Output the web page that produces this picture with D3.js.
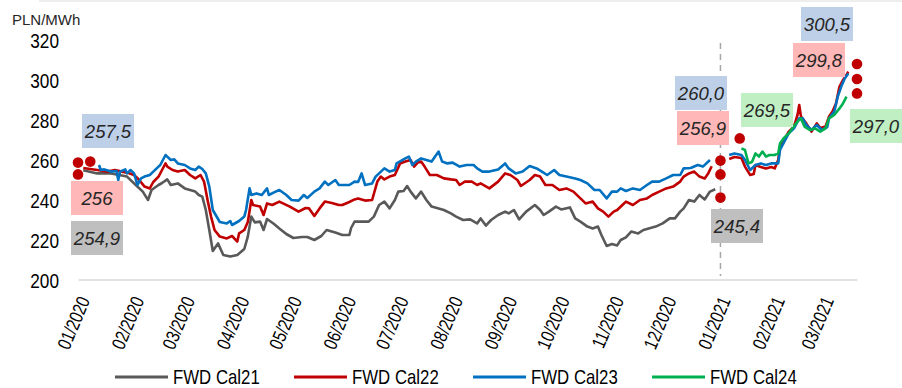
<!DOCTYPE html>
<html>
<head>
<meta charset="utf-8">
<script src="https://cdn.jsdelivr.net/npm/d3@7"></script>
<style>
  html, body { margin: 0; padding: 0; background: #fff; }
  svg { display: block; font-family: "Liberation Sans", Arial, sans-serif; }
</style>
</head>
<body>
<svg id="chart" width="902" height="388"></svg>
<script>
// Forward base-load prices, PLN/MWh (date, value); null marks the year-end gap
const cal21 = [
  ["2020-01-03",254.9],["2020-01-11",253.3],["2020-01-19",253.3],["2020-01-28",251.7],["2020-02-02",247.5],
  ["2020-02-06",244.2],["2020-02-09",240],["2020-02-11",245],["2020-02-15",247.5],["2020-02-17",248.5],
  ["2020-02-20",250.3],["2020-02-22",247.5],["2020-02-26",248.3],["2020-03-01",245.8],["2020-03-04",245],
  ["2020-03-07",244.2],["2020-03-09",242.5],["2020-03-11",241.7],["2020-03-13",235],["2020-03-15",225],
  ["2020-03-17",214.5],["2020-03-20",218.3],["2020-03-23",212.5],["2020-03-27",211.7],["2020-03-31",212.5],
  ["2020-04-04",215.5],["2020-04-06",221.7],["2020-04-08",231.7],["2020-04-10",228.8],["2020-04-13",229.2],
  ["2020-04-15",225],["2020-04-17",230.5],["2020-04-21",228],["2020-04-24",225.8],["2020-04-28",223],
  ["2020-05-02",221],["2020-05-07",221.5],["2020-05-10",221.5],["2020-05-14",220],["2020-05-18",222],
  ["2020-05-21",225],["2020-05-26",223.7],["2020-05-30",222.5],["2020-06-03",222.5],["2020-06-04",226],
  ["2020-06-06",229.2],["2020-06-10",229.2],["2020-06-14",229.2],["2020-06-17",231.7],["2020-06-20",237.5],
  ["2020-06-23",239.2],["2020-06-26",235.8],["2020-06-29",240],["2020-07-01",244.2],["2020-07-04",244.5],
  ["2020-07-06",247],["2020-07-08",244.2],["2020-07-11",240.8],["2020-07-14",244.2],["2020-07-17",240],
  ["2020-07-20",236.7],["2020-07-23",236],["2020-07-27",235],["2020-07-31",233.3],["2020-08-03",231.7],
  ["2020-08-07",230],["2020-08-11",230.3],["2020-08-15",228.3],["2020-08-17",230.8],["2020-08-20",227.2],
  ["2020-08-23",230],["2020-08-27",232.5],["2020-08-31",234.2],["2020-09-02",233.3],["2020-09-05",235],
  ["2020-09-08",230.3],["2020-09-12",234.2],["2020-09-17",237.5],["2020-09-20",235],["2020-09-22",232.5],
  ["2020-09-25",234.2],["2020-09-29",236.7],["2020-10-02",235.3],["2020-10-07",236.3],["2020-10-10",230.8],
  ["2020-10-13",229.2],["2020-10-17",226.7],["2020-10-20",225.8],["2020-10-23",226.7],["2020-10-25",222.5],
  ["2020-10-28",217],["2020-10-31",218],["2020-11-03",217.3],["2020-11-05",220],["2020-11-08",221.3],
  ["2020-11-11",224.2],["2020-11-15",223.3],["2020-11-18",225],["2020-11-21",225.8],["2020-11-25",226.7],
  ["2020-11-29",228.3],["2020-12-03",230.8],["2020-12-06",230.8],["2020-12-09",234.2],["2020-12-11",235.8],
  ["2020-12-14",240],["2020-12-17",239.2],["2020-12-20",242.5],["2020-12-23",240.3],["2020-12-26",244.2],
  ["2020-12-29",245.4]
];

const cal22 = [
  ["2020-01-03",256],["2020-01-11",255],["2020-01-17",254.2],["2020-01-21",255],["2020-01-25",254.2],
  ["2020-01-28",253.7],["2020-02-01",252.5],["2020-02-04",250],["2020-02-07",246.7],["2020-02-10",245.8],
  ["2020-02-12",249],["2020-02-15",251.7],["2020-02-17",255],["2020-02-19",258.3],["2020-02-20",256.7],
  ["2020-02-23",255],["2020-02-26",254.2],["2020-03-01",255],["2020-03-04",252.5],["2020-03-07",250.8],
  ["2020-03-10",252.5],["2020-03-12",249.2],["2020-03-14",240],["2020-03-16",231.7],["2020-03-18",225],
  ["2020-03-21",221.7],["2020-03-25",220.8],["2020-03-28",222],["2020-03-31",219.2],["2020-04-01",223.3],
  ["2020-04-04",225],["2020-04-06",229],["2020-04-08",240],["2020-04-09",237.5],["2020-04-13",236.7],
  ["2020-04-15",232.5],["2020-04-17",238.3],["2020-04-20",237.5],["2020-04-24",239.2],["2020-04-30",236.7],
  ["2020-05-05",234.2],["2020-05-09",236],["2020-05-11",235.8],["2020-05-14",232],["2020-05-17",235.8],
  ["2020-05-20",239.2],["2020-05-24",238.5],["2020-05-28",237.5],["2020-05-30",237.5],["2020-06-03",239],
  ["2020-06-06",240.3],["2020-06-08",240.8],["2020-06-12",239.7],["2020-06-16",240],["2020-06-19",249.2],
  ["2020-06-21",251.7],["2020-06-23",250.3],["2020-06-26",251.7],["2020-06-29",252.5],["2020-07-02",258.3],
  ["2020-07-05",259.2],["2020-07-08",260],["2020-07-10",256.7],["2020-07-12",258.7],["2020-07-14",259.2],
  ["2020-07-16",256.7],["2020-07-19",252.5],["2020-07-23",252.5],["2020-07-27",250.8],["2020-07-31",250.3],
  ["2020-08-03",250],["2020-08-05",247.5],["2020-08-08",249.2],["2020-08-12",249.2],["2020-08-15",247.5],
  ["2020-08-17",248.3],["2020-08-22",245.8],["2020-08-27",249.2],["2020-08-31",253.3],["2020-09-03",252.5],
  ["2020-09-07",250],["2020-09-09",247],["2020-09-14",250],["2020-09-17",252.5],["2020-09-20",251.7],
  ["2020-09-23",247.5],["2020-09-27",247.5],["2020-10-01",245],["2020-10-05",245.8],["2020-10-09",244.2],
  ["2020-10-13",240.8],["2020-10-16",238.3],["2020-10-20",239.2],["2020-10-23",235.8],["2020-10-26",234.2],
  ["2020-10-29",231.7],["2020-11-01",234.2],["2020-11-03",235],["2020-11-06",237.5],["2020-11-08",239.2],
  ["2020-11-12",237.5],["2020-11-16",240],["2020-11-20",240.8],["2020-11-23",242.5],["2020-11-27",244.2],
  ["2020-12-01",245.8],["2020-12-05",246.7],["2020-12-09",249.2],["2020-12-11",251.7],["2020-12-14",253.3],
  ["2020-12-17",254.2],["2020-12-20",251.7],["2020-12-23",250.8],["2020-12-25",253.3],["2020-12-27",256.9],
  ["2021-01-01",null],
  ["2021-01-06",260.5],["2021-01-09",261.5],["2021-01-13",261],["2021-01-15",256.7],["2021-01-18",252.5],
  ["2021-01-20",253],["2021-01-21",257.5],["2021-01-24",256.5],["2021-01-27",255.8],["2021-01-30",256.5],
  ["2021-02-01",255.8],["2021-02-03",260],["2021-02-04",266.7],["2021-02-07",270.8],["2021-02-09",274.2],
  ["2021-02-12",276.7],["2021-02-14",282.5],["2021-02-15",287.5],["2021-02-16",281.7],["2021-02-19",278.3],
  ["2021-02-22",274.2],["2021-02-25",278.3],["2021-02-27",276],["2021-03-02",276.7],["2021-03-04",281.7],
  ["2021-03-06",284.2],["2021-03-08",288.3],["2021-03-10",296.7],["2021-03-12",300],["2021-03-14",302.5],
  ["2021-03-15",304.2]
];

const cal23 = [
  ["2020-01-12",257.5],["2020-01-13",255],["2020-01-15",255.3],["2020-01-19",254.2],["2020-01-22",254.5],
  ["2020-01-23",250],["2020-01-24",254.2],["2020-01-27",255.3],["2020-01-28",253.3],["2020-01-30",255],
  ["2020-02-01",253.3],["2020-02-03",247.5],["2020-02-05",250.8],["2020-02-07",251.7],["2020-02-10",252.5],
  ["2020-02-12",254.2],["2020-02-15",256.7],["2020-02-16",257.5],["2020-02-19",262.5],["2020-02-20",261.7],
  ["2020-02-22",260],["2020-02-24",260.3],["2020-02-26",258.3],["2020-03-01",257.5],["2020-03-04",255.8],
  ["2020-03-07",255],["2020-03-09",256.7],["2020-03-11",255.5],["2020-03-13",253.3],["2020-03-15",246.7],
  ["2020-03-17",235],["2020-03-21",229],["2020-03-25",228.3],["2020-03-27",229.5],["2020-03-28",227.5],
  ["2020-04-01",229.5],["2020-04-04",231.7],["2020-04-05",235],["2020-04-07",245.8],["2020-04-08",242.5],
  ["2020-04-11",243.3],["2020-04-14",242.5],["2020-04-17",245.8],["2020-04-18",242.5],["2020-04-21",243.8],
  ["2020-04-24",245],["2020-04-28",242.5],["2020-05-01",240],["2020-05-05",239.7],["2020-05-08",242.5],
  ["2020-05-10",241],["2020-05-14",244.2],["2020-05-17",245.8],["2020-05-20",249.2],["2020-05-22",247.5],
  ["2020-05-26",250],["2020-05-28",247.5],["2020-06-03",247.5],["2020-06-06",249.2],["2020-06-08",249],
  ["2020-06-10",253.3],["2020-06-12",247.5],["2020-06-16",248.3],["2020-06-18",251.7],["2020-06-23",255.8],
  ["2020-06-26",254.2],["2020-06-29",255],["2020-06-30",258.3],["2020-07-05",260.8],["2020-07-07",261.7],
  ["2020-07-09",257.5],["2020-07-11",259.2],["2020-07-14",260.8],["2020-07-17",260],["2020-07-20",259.2],
  ["2020-07-24",264.2],["2020-07-26",259.2],["2020-07-29",258.3],["2020-08-01",258.7],["2020-08-05",256.7],
  ["2020-08-09",257.5],["2020-08-13",257.5],["2020-08-15",255.8],["2020-08-18",254.2],["2020-08-22",254.2],
  ["2020-08-27",255.3],["2020-08-31",258.3],["2020-09-02",255.8],["2020-09-06",253.3],["2020-09-10",254.2],
  ["2020-09-14",257],["2020-09-18",255.8],["2020-09-21",254.2],["2020-09-24",252.5],["2020-09-28",255],
  ["2020-10-01",252.5],["2020-10-05",251.7],["2020-10-10",250.8],["2020-10-13",250],["2020-10-17",248.3],
  ["2020-10-21",245],["2020-10-24",245],["2020-10-28",240.8],["2020-10-31",244.2],["2020-11-03",244.2],
  ["2020-11-05",245.8],["2020-11-08",244.5],["2020-11-12",245.8],["2020-11-16",245],["2020-11-20",247.5],
  ["2020-11-23",249.2],["2020-11-27",249.2],["2020-12-01",250.8],["2020-12-05",252.5],["2020-12-09",252.5],
  ["2020-12-11",255.8],["2020-12-15",256],["2020-12-19",257.5],["2020-12-22",256.7],["2020-12-26",260],
  ["2021-01-01",null],
  ["2021-01-06",262.5],["2021-01-09",263.3],["2021-01-13",262.5],["2021-01-15",260],["2021-01-18",255],
  ["2021-01-21",257.5],["2021-01-24",258.3],["2021-01-27",257.5],["2021-01-30",258.3],["2021-02-03",258.3],
  ["2021-02-04",265],["2021-02-07",270],["2021-02-09",273.3],["2021-02-12",275.8],["2021-02-15",280.8],
  ["2021-02-17",280.8],["2021-02-19",277.5],["2021-02-22",275],["2021-02-25",277.5],["2021-02-28",275],
  ["2021-03-03",276.5],["2021-03-04",280.8],["2021-03-07",284.2],["2021-03-09",291.7],["2021-03-11",296.7],
  ["2021-03-13",300.8],["2021-03-15",303.3]
];

const cal24 = [
  ["2021-01-13",265.8],["2021-01-15",265],["2021-01-17",258.3],["2021-01-19",259],["2021-01-21",263.3],
  ["2021-01-23",261.7],["2021-01-25",264.2],["2021-01-27",261.7],["2021-01-29",262.5],["2021-02-01",262.5],
  ["2021-02-03",263.3],["2021-02-04",268.3],["2021-02-06",270.8],["2021-02-09",273.3],["2021-02-11",275.8],
  ["2021-02-14",279.2],["2021-02-16",280.8],["2021-02-18",276.7],["2021-02-21",275],["2021-02-24",275.8],
  ["2021-02-27",274.2],["2021-03-02",275.8],["2021-03-04",280.8],["2021-03-07",282.5],["2021-03-10",285.8],
  ["2021-03-12",288.3],["2021-03-14",291.7]
];

const seriesNames = ["FWD Cal21", "FWD Cal22", "FWD Cal23", "FWD Cal24"];
const seriesData = [cal21, cal22, cal23, cal24];

// Red highlight dots
const markerDates  = ["2019-12-31","2020-01-07","2019-12-31","2021-01-01","2021-01-01","2021-01-01","2021-01-12","2021-03-20","2021-03-20","2021-03-20"];
const markerValues = [258.7, 259.2, 252.8, 259.7, 252.8, 241.2, 270.8, 308, 300.5, 293.3];

// Value callouts and the series each one belongs to
const calloutTexts  = ["257,5","256","254,9","260,0","256,9","245,4","269,5","300,5","299,8","297,0"];
const calloutSeries = [2, 1, 0, 2, 1, 0, 3, 2, 1, 3];

const yTicks = [200, 220, 240, 260, 280, 300, 320];
const unitLabel = "PLN/MWh";

// ---- layout & style ----
const colors = ["#595959", "#c00000", "#0070c0", "#00b050"];
const boxFill = ["#bfbfbf", "#ffb7b7", "#bed0e8", "#c0efc3"];
const calloutBoxes = [ // x, y (top-left) of each callout box
  [82,114],[71,181],[71,221],[675,76],[677,111],[711,209],[741,93],[801,7],[793,43],[850,109]
];
const boxW = 52, boxH = 34;

const parse = d3.utcParse("%Y-%m-%d");
const svg = d3.select("#chart");

const x = d3.scaleUtc()
  .domain([parse("2019-12-31"), parse("2021-03-20")])
  .range([78, 857]);
const y = d3.scaleLinear().domain([200, 320]).range([280, 40]);

// faint frame edge along the top
svg.append("rect").attr("x", 39).attr("y", 0).attr("width", 863).attr("height", 2).attr("fill", "#eeeeee");

// unit label
svg.append("text").attr("x", 12).attr("y", 25)
  .attr("font-size", 15).attr("fill", "#262626").text(unitLabel);

// y axis (labels only)
const yAxis = svg.append("g").attr("transform", "translate(78,0)")
  .call(d3.axisLeft(y).tickValues(yTicks).tickSize(0).tickFormat(d3.format("d")));
yAxis.select(".domain").remove();
yAxis.selectAll("text")
  .attr("x", null).attr("dy", "0.36em")
  .attr("transform", "translate(-19,0) scale(0.82,1)")
  .attr("text-anchor", "end")
  .attr("font-size", 21).attr("fill", "#000")
  .attr("font-family", "'Liberation Sans', Arial, sans-serif");

// x axis
const xAxis = svg.append("g").attr("transform", "translate(0,279.5)")
  .call(d3.axisBottom(x).ticks(d3.utcMonth.every(1)).tickSize(0).tickFormat(d3.utcFormat("%m/%Y")));
xAxis.select(".domain").attr("stroke", "#d9d9d9").attr("stroke-width", 1.6);
xAxis.selectAll("text")
  .attr("y", null).attr("dy", "0.35em")
  .attr("transform", "translate(4,18) rotate(-67) scale(0.8,1)")
  .attr("text-anchor", "end")
  .attr("font-size", 19).attr("fill", "#000")
  .attr("font-family", "'Liberation Sans', Arial, sans-serif");

// year-end divider
const yearEnd = x(parse("2021-01-01"));
svg.append("line")
  .attr("x1", yearEnd).attr("x2", yearEnd).attr("y1", 43).attr("y2", 276)
  .attr("stroke", "#a6a6a6").attr("stroke-width", 1.5).attr("stroke-dasharray", "6,5");

// price lines
const line = d3.line()
  .defined(d => d[1] !== null)
  .x(d => x(parse(d[0])))
  .y(d => y(d[1]));

svg.append("g").selectAll("path")
  .data(seriesData)
  .join("path")
  .attr("d", line)
  .attr("fill", "none")
  .attr("stroke", (d, i) => colors[i])
  .attr("stroke-width", 2.6)
  .attr("stroke-linejoin", "round");

// highlight dots
svg.append("g").selectAll("circle")
  .data(markerDates.map((d, i) => [d, markerValues[i]]))
  .join("circle")
  .attr("cx", d => x(parse(d[0])))
  .attr("cy", d => y(d[1]))
  .attr("r", 5.3)
  .attr("fill", "#c00000");

// callouts
const callouts = svg.append("g").selectAll("g")
  .data(calloutTexts.map((t, i) => ({ t, s: calloutSeries[i], b: calloutBoxes[i] })))
  .join("g")
  .attr("transform", d => `translate(${d.b[0]},${d.b[1]})`);
callouts.append("rect")
  .attr("width", boxW).attr("height", boxH)
  .attr("fill", d => boxFill[d.s]);
callouts.append("text")
  .attr("x", boxW / 2).attr("y", boxH / 2).attr("dy", "0.36em")
  .attr("text-anchor", "middle")
  .attr("font-size", 18.5).attr("font-style", "italic").attr("fill", "#262626")
  .text(d => d.t);

// legend
const legend = svg.append("g").selectAll("g")
  .data(seriesNames)
  .join("g")
  .attr("transform", (d, i) => `translate(${115 + i * 179},377)`);
legend.append("line")
  .attr("x1", 0).attr("x2", 53).attr("y1", 0).attr("y2", 0)
  .attr("stroke", (d, i) => colors[i]).attr("stroke-width", 3);
legend.append("text")
  .attr("transform", "translate(58,0) scale(0.84,1)")
  .attr("dy", "0.35em")
  .attr("font-size", 20).attr("fill", "#000")
  .text(d => d);
</script>
</body>
</html>
